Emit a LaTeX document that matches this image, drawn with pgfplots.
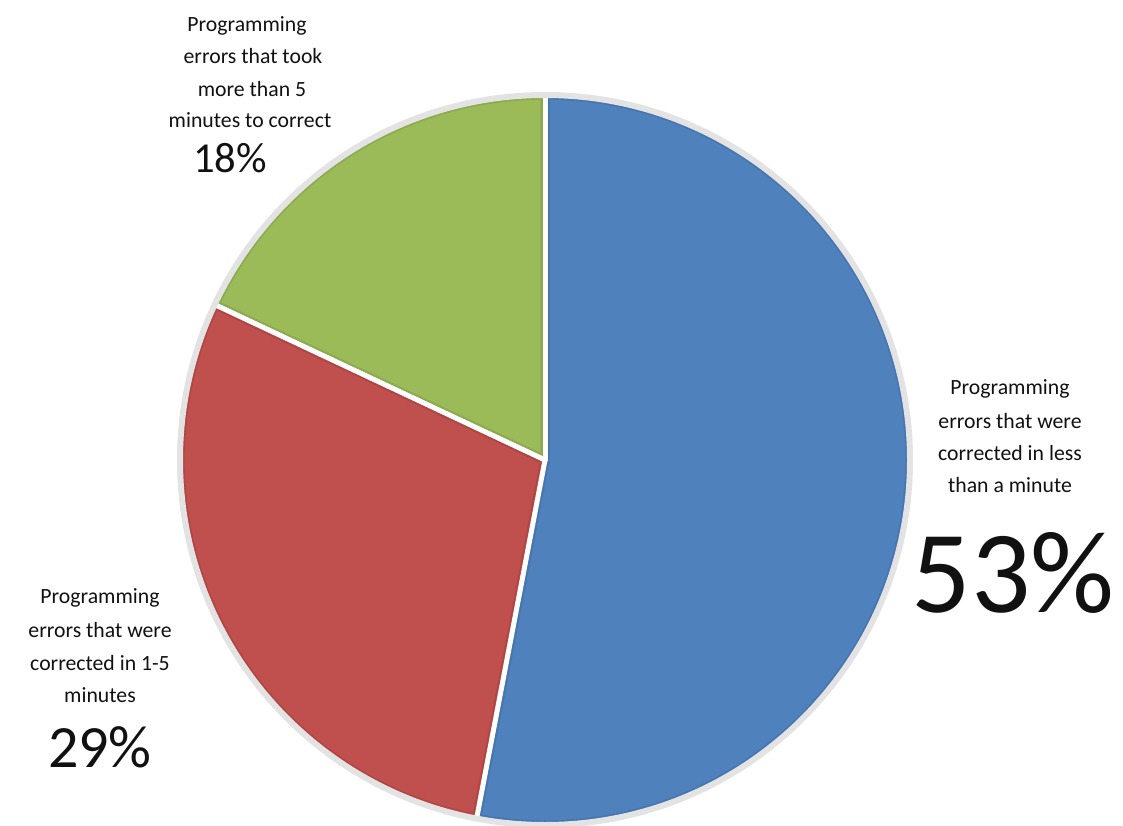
\documentclass[border=0pt]{standalone}
\usepackage{pgfplots}
\pgfplotsset{compat=1.18}
\usepackage{pgfplotstable}
\usepackage{fontspec}
\setmainfont{Carlito}
\definecolor{cblue}{HTML}{4F81BD}
\definecolor{cred}{HTML}{C0504D}
\definecolor{cgreen}{HTML}{9BBB59}
\definecolor{eblue}{HTML}{4675B0}
\definecolor{ered}{HTML}{B04644}
\definecolor{egreen}{HTML}{8CAA4F}
\definecolor{ring}{HTML}{E3E3E3}
\definecolor{txt}{HTML}{111111}

\pgfplotstableread{
share value
less 53
mid 29
more 18
}\piedata

\begin{document}
\begin{tikzpicture}
\pgfplotstablegetelem{0}{value}\of\piedata \pgfmathsetmacro{\va}{\pgfplotsretval}
\pgfplotstablegetelem{1}{value}\of\piedata \pgfmathsetmacro{\vb}{\pgfplotsretval}
\pgfplotstablegetelem{2}{value}\of\piedata \pgfmathsetmacro{\vc}{\pgfplotsretval}
\pgfmathsetmacro{\aA}{90}
\pgfmathsetmacro{\aB}{\aA-3.6*\va}
\pgfmathsetmacro{\aC}{\aB-3.6*\vb}
\pgfmathsetmacro{\aD}{\aC-3.6*\vc}
\def\R{273.75pt}
\newcommand{\slice}[4]{%
  \begin{scope}
  \clip (axis cs:545,365) -- ++(#1:\R) arc[start angle=#1,end angle=#2,radius=\R] -- cycle;
  \fill[#3] (axis cs:545,365) -- ++(#1:\R) arc[start angle=#1,end angle=#2,radius=\R] -- cycle;
  \draw[#4,line width=7pt] (axis cs:545,365) -- ++(#1:\R) arc[start angle=#1,end angle=#2,radius=\R] -- cycle;
  \end{scope}}
\begin{axis}[
  scale only axis, width=842.25pt, height=618.75pt,
  xmin=0, xmax=1123, ymin=0, ymax=825,
  hide axis, clip=false]
  \coordinate (bl) at (axis cs:0,0);
  \coordinate (tr) at (axis cs:1123,825);
  \slice{\aA}{\aB}{cblue}{eblue}
  \slice{\aB}{\aC}{cred}{ered}
  \slice{\aC}{\aD}{cgreen}{egreen}
  \draw[white,line width=3.75pt,line cap=round] (axis cs:545,365) -- ++(\aA:\R);
  \draw[white,line width=3.75pt,line cap=round] (axis cs:545,365) -- ++(\aB:\R);
  \draw[white,line width=3.75pt,line cap=round] (axis cs:545,365) -- ++(\aC:\R);
  \draw[ring,line width=4.5pt] (axis cs:545,365) circle[radius=\R];
  \begin{scope}[every node/.style={anchor=base,text=txt,inner sep=0pt,font=\fontsize{16.3}{20}\selectfont}]
  % top label
  \node at (axis cs:247,793) {Programming};
  \node at (axis cs:253,761) {errors that took};
  \node at (axis cs:252,728) {more than 5};
  \node at (axis cs:250,697) {minutes to correct};
  \node[font=\fontsize{32}{38}\selectfont] at (axis cs:230,652) {18\%};
  % right label
  \node at (axis cs:1010,430) {Programming};
  \node at (axis cs:1010,397) {errors that were};
  \node at (axis cs:1010,365) {corrected in less};
  \node at (axis cs:1010,333) {than a minute};
  \node[font=\fontsize{88}{100}\selectfont] at (axis cs:1013,213) {53\%};
  % left label
  \node at (axis cs:100,222) {Programming};
  \node at (axis cs:100,188) {errors that were};
  \node at (axis cs:100,155) {corrected in 1-5};
  \node at (axis cs:100,123) {minutes};
  \node[font=\fontsize{45}{54}\selectfont] at (axis cs:100,58) {29\%};
  \end{scope}
\end{axis}
\pgfresetboundingbox
\path[use as bounding box] (bl) rectangle (tr);
\end{tikzpicture}
\end{document}
